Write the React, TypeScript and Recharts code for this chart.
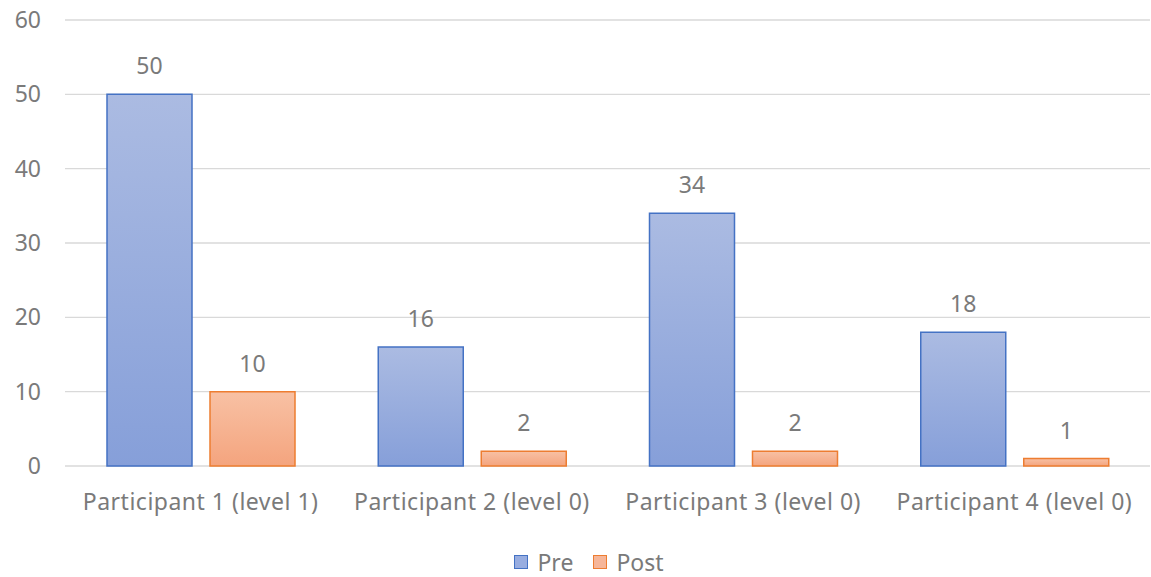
import { Bar, BarChart, CartesianGrid, LabelList, Legend, XAxis, YAxis } from 'recharts';

const participants = [
  'Participant 1 (level 1)',
  'Participant 2 (level 0)',
  'Participant 3 (level 0)',
  'Participant 4 (level 0)',
];
const preScores = [50, 16, 34, 18];
const postScores = [10, 2, 2, 1];
const yTicks = [0, 10, 20, 30, 40, 50, 60];

const data = participants.map((name, i) => ({ name, pre: preScores[i], post: postScores[i] }));

const fontFamily = '"Segoe UI", "Noto Sans", "Open Sans", sans-serif';
const fontSize = 23;
const textColor = '#7a7a7a';

const legendItems = [
  { label: 'Pre', fill: '#98ade0', stroke: '#4472c4' },
  { label: 'Post', fill: '#f6b699', stroke: '#ed7d31' },
];

const renderLegend = () => (
  <div
    style={{
      display: 'flex',
      justifyContent: 'center',
      gap: 20,
      fontFamily,
      fontSize,
      lineHeight: '30px',
      height: 30,
      color: textColor,
      paddingLeft: 28,
    }}
  >
    {legendItems.map((item) => (
      <div key={item.label} style={{ display: 'flex', alignItems: 'center', gap: 9 }}>
        <span
          style={{
            width: 12,
            height: 12,
            background: item.fill,
            border: `1.5px solid ${item.stroke}`,
            display: 'inline-block',
          }}
        />
        <span>{item.label}</span>
      </div>
    ))}
  </div>
);

const App = () => (
  <div style={{ position: 'absolute', top: 0, left: 0, background: '#fff' }}>
    <BarChart
      width={1151}
      height={577}
      data={data}
      margin={{ top: 20, right: 1, left: 0, bottom: 0 }}
      barCategoryGap={42}
      barGap={18}
    >
      <defs>
        <linearGradient id="preFill" x1="0" y1="0" x2="0" y2="1">
          <stop offset="0%" stopColor="#abbbe2" />
          <stop offset="100%" stopColor="#869fd9" />
        </linearGradient>
        <linearGradient id="postFill" x1="0" y1="0" x2="0" y2="1">
          <stop offset="0%" stopColor="#f8c1a4" />
          <stop offset="100%" stopColor="#f4a47e" />
        </linearGradient>
      </defs>
      <CartesianGrid vertical={false} stroke="#d9d9d9" strokeWidth={1.3} />
      <XAxis
        dataKey="name"
        axisLine={false}
        tickLine={false}
        height={81}
        tickMargin={22}
        tick={{ fontSize, fill: textColor, fontFamily, letterSpacing: 0.5 }}
        interval={0}
      />
      <YAxis
        width={65}
        domain={[0, 60]}
        ticks={yTicks}
        axisLine={false}
        tickLine={false}
        tickMargin={18}
        tick={{ fontSize, fill: textColor, fontFamily }}
      />
      <Legend verticalAlign="bottom" height={30} content={renderLegend} />
      <Bar dataKey="pre" name="Pre" fill="url(#preFill)" stroke="#4472c4" strokeWidth={1.5} isAnimationActive={false}>
        <LabelList dataKey="pre" position="top" offset={20} style={{ fontSize, fill: textColor, fontFamily }} />
      </Bar>
      <Bar dataKey="post" name="Post" fill="url(#postFill)" stroke="#ed7d31" strokeWidth={1.5} isAnimationActive={false}>
        <LabelList dataKey="post" position="top" offset={20} style={{ fontSize, fill: textColor, fontFamily }} />
      </Bar>
    </BarChart>
  </div>
);

export default App;
